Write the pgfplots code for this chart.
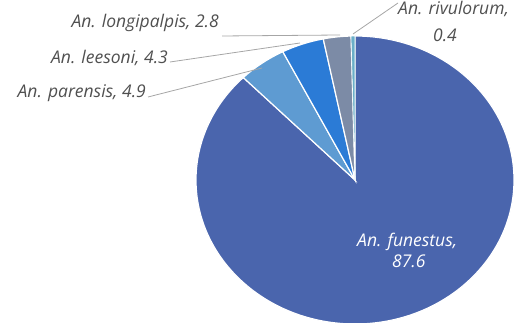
\documentclass[border=0pt]{standalone}
\usepackage{fontspec}
\setmainfont{Open Sans}
\usepackage{pgfplots}
\usepackage{pgfplotstable}
\pgfplotsset{compat=1.18}
\definecolor{cFun}{HTML}{4A65AD}
\definecolor{cPar}{HTML}{5E9BD2}
\definecolor{cLee}{HTML}{2B7BD6}
\definecolor{cLon}{HTML}{7C8BA6}
\definecolor{cRiv}{HTML}{6AAFC8}
\definecolor{lbl}{HTML}{505050}
\definecolor{leader}{HTML}{A6A6A6}
\pgfplotstableread{
name value
funestus 87.6
parensis 4.9
leesoni 4.3
longipalpis 2.8
rivulorum 0.4
}\piedata
\pgfplotstablegetelem{0}{value}\of\piedata \let\vA\pgfplotsretval
\pgfplotstablegetelem{1}{value}\of\piedata \let\vB\pgfplotsretval
\pgfplotstablegetelem{2}{value}\of\piedata \let\vC\pgfplotsretval
\pgfplotstablegetelem{3}{value}\of\piedata \let\vD\pgfplotsretval
\pgfplotstablegetelem{4}{value}\of\piedata \let\vE\pgfplotsretval
\pgfmathsetmacro\aA{90}
\pgfmathsetmacro\aB{\aA-3.6*\vA}
\pgfmathsetmacro\aC{\aB-3.6*\vB}
\pgfmathsetmacro\aD{\aC-3.6*\vC}
\pgfmathsetmacro\aE{\aD-3.6*\vD}
\pgfmathsetmacro\aF{\aE-3.6*\vE}
\begin{document}%
\begin{tikzpicture}
\begin{axis}[x=1pt,y=1pt,xmin=0,xmax=514,ymin=0,ymax=323,hide axis,clip=false,
  anchor=origin, at={(0pt,0pt)}, disabledatascaling]
\begin{scope}
\clip (axis cs:0,0) rectangle (axis cs:514,323);
\fill[cFun, draw=white, line width=1.2pt] (axis cs:355,143) -- ++(\aA:159pt and 144pt) arc[start angle=\aA, end angle=\aB, x radius=159pt, y radius=144pt] -- cycle;
\fill[cPar, draw=white, line width=1.2pt] (axis cs:355,143) -- ++(\aB:159pt and 144pt) arc[start angle=\aB, end angle=\aC, x radius=159pt, y radius=144pt] -- cycle;
\fill[cLee, draw=white, line width=1.2pt] (axis cs:355,143) -- ++(\aC:159pt and 144pt) arc[start angle=\aC, end angle=\aD, x radius=159pt, y radius=144pt] -- cycle;
\fill[cLon, draw=white, line width=1.2pt] (axis cs:355,143) -- ++(\aD:159pt and 144pt) arc[start angle=\aD, end angle=\aE, x radius=159pt, y radius=144pt] -- cycle;
\fill[cRiv, draw=white, line width=0.6pt] (axis cs:355,143) -- ++(\aE:159pt and 144pt) arc[start angle=\aE, end angle=\aF, x radius=159pt, y radius=144pt] -- cycle;
\end{scope}
\draw[leader, line width=0.8pt] (axis cs:222,287) -- (axis cs:340,288);
\draw[leader, line width=0.8pt] (axis cs:353,289) -- (axis cs:398,320);
\draw[leader, line width=0.8pt] (axis cs:170,261) -- (axis cs:300,280);
\draw[leader, line width=0.8pt] (axis cs:148,226) -- (axis cs:262,255);
\tikzset{lab/.style={inner sep=0pt, font=\fontsize{17.5}{20}\selectfont\itshape, text=lbl}}
\node[lab, anchor=base east] at (axis cs:219,295) {An. longipalpis, 2.8};
\node[lab, anchor=base east] at (axis cs:168,259) {An. leesoni, 4.3};
\node[lab, anchor=base east] at (axis cs:146,225.5) {An. parensis, 4.9};
\node[lab, anchor=base west] at (axis cs:398,308) {An. rivulorum,};
\node[lab, anchor=base west] at (axis cs:433,281) {0.4};
\node[lab, text=white, anchor=base west] at (axis cs:357,76) {An. funestus,};
\node[lab, text=white, anchor=base west] at (axis cs:392,55) {87.6};
\end{axis}
\pgfresetboundingbox
\useasboundingbox (0pt,0pt) rectangle (514pt,323pt);
\end{tikzpicture}%
\end{document}
